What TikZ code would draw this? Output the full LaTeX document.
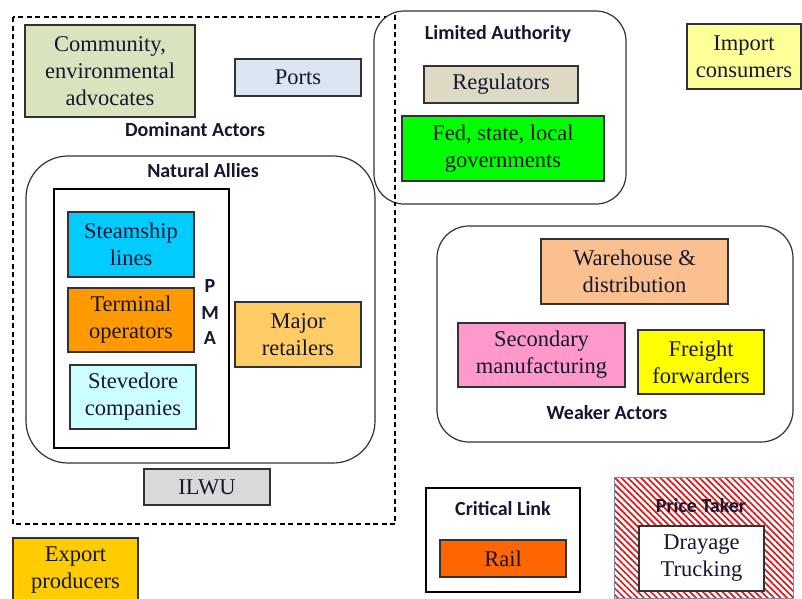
\documentclass[tikz,border=0pt]{standalone}
\usepackage{fontspec}
\setmainfont{Liberation Serif}
\newfontfamily\lblfont{Carlito}
\usetikzlibrary{patterns.meta}
\definecolor{txt}{RGB}{22,22,48}
\definecolor{edge}{RGB}{50,50,50}
\definecolor{cComm}{HTML}{D7E4BD}
\definecolor{cPorts}{HTML}{DCE6F2}
\definecolor{cReg}{HTML}{DDD9C3}
\definecolor{cFed}{HTML}{00FF00}
\definecolor{cImp}{HTML}{FFFF99}
\definecolor{cSteam}{HTML}{00CCFF}
\definecolor{cTerm}{HTML}{FF9900}
\definecolor{cSteve}{HTML}{CCFFFF}
\definecolor{cMajor}{HTML}{FFCC66}
\definecolor{cIlwu}{HTML}{D9D9D9}
\definecolor{cWare}{HTML}{FAC090}
\definecolor{cSec}{HTML}{FF99CC}
\definecolor{cFreight}{HTML}{FFFF00}
\definecolor{cRail}{HTML}{FF6600}
\definecolor{cExp}{HTML}{FFCC00}
\definecolor{cPTedge}{RGB}{120,140,180}
\definecolor{hatch}{RGB}{215,30,30}
\tikzset{
  actor/.style={draw=edge, line width=1.4pt, inner sep=0pt, align=center, text=txt,
    font=\fontsize{22.5}{27}\selectfont},
  group/.style={draw=edge, line width=1.2pt, inner sep=0pt, fill=none},
  roundgroup/.style={group, rounded corners=#1},
  lbl/.style={inner sep=0pt, text=txt, font=\lblfont\bfseries\fontsize{20}{24}\selectfont},
}
\begin{document}
\begin{tikzpicture}[x=1pt,y=-1pt]
\useasboundingbox (0,0) rectangle (802,598);
\clip (0,0) rectangle (802,598);
\fill[white] (0,0) rectangle (802,598);

% dominant actors dashed region
\draw[dashed, line width=1.1pt, dash pattern=on 5pt off 3.5pt, black] (13,17) rectangle (395,524);
\coordinate (dashtop) at (395,15);
\coordinate (dashbot) at (395,204);

% limited authority
\node[roundgroup=30pt, fill=white, minimum width=252pt, minimum height=193pt] (LA) at (500,107.5) {};
\draw[dashed, line width=1.1pt, dash pattern=on 5pt off 3.5pt, black] (dashtop) -- (dashbot);
\node[lbl] (LAlbl) at (498,34) {Limited Authority};
\node[actor, fill=cReg, minimum width=154pt, minimum height=37pt] (reg) at (501,84.5) {Regulators};
\node[actor, fill=cFed, minimum width=202pt, minimum height=65pt] (fed) at (503,148.5) {Fed, state, local\\governments};

% dominant actors content
\node[actor, fill=cComm, minimum width=170pt, minimum height=92pt] (comm) at (110,71) {Community,\\environmental\\advocates};
\node[actor, fill=cPorts, minimum width=126pt, minimum height=37pt] (ports) at (298,77.5) {Ports};
\node[lbl] (DAlbl) at (195,130) {Dominant Actors};

% natural allies
\node[roundgroup=42pt, minimum width=349pt, minimum height=307pt] (NA) at (200.5,309.5) {};
\node[lbl] (NAlbl) at (203,171) {Natural Allies};
\node[group, draw=black, minimum width=175pt, minimum height=259pt] (PMA) at (141.5,318.5) {};
\node[actor, fill=cSteam, minimum width=126pt, minimum height=65pt] (steam) at (131,244.5) {Steamship\\lines};
\node[actor, fill=cTerm, minimum width=126pt, minimum height=64pt] (term) at (131,320) {Terminal\\operators};
\node[actor, fill=cSteve, minimum width=126pt, minimum height=64pt] (steve) at (133,397) {Stevedore\\companies};
\node[lbl] (P) at (210,286) {P};
\node[lbl] (M) at (210,313) {M};
\node[lbl] (A) at (210,338) {A};
\node[actor, fill=cMajor, minimum width=126pt, minimum height=65pt] (major) at (298,334.5) {Major\\retailers};
\node[actor, fill=cIlwu, minimum width=126pt, minimum height=36pt] (ilwu) at (207,487) {ILWU};

% import consumers
\node[actor, fill=cImp, minimum width=114pt, minimum height=65pt] (imp) at (744,56.5) {Import\\consumers};

% weaker actors
\node[roundgroup=32pt, minimum width=356pt, minimum height=216pt] (WA) at (615,334) {};
\node[actor, fill=cWare, minimum width=187pt, minimum height=65pt] (ware) at (634.5,271.5) {Warehouse \&\\distribution};
\node[actor, fill=cSec, minimum width=167pt, minimum height=64pt] (sec) at (541.5,355) {Secondary\\manufacturing};
\node[actor, fill=cFreight, minimum width=126pt, minimum height=64pt] (freight) at (701,362) {Freight\\forwarders};
\node[lbl] (WAlbl) at (607,413) {Weaker Actors};

% critical link
\node[group, draw=black, minimum width=154pt, minimum height=104pt] (CL) at (503,540) {};
\node[lbl] (CLlbl) at (503,509) {Critical Link};
\node[actor, fill=cRail, minimum width=126pt, minimum height=37pt] (rail) at (503,558.5) {Rail};

% price taker
\node[draw=cPTedge, line width=0.8pt, inner sep=0pt, fill=white,
  pattern={Lines[angle=-45,distance=4.6pt,line width=1.7pt]}, pattern color=hatch,
  minimum width=179pt, minimum height=121pt] (PT) at (703.5,537.5) {};
\node[lbl] (PTlbl) at (701,506) {Price Taker};
\node[actor, fill=white, minimum width=125pt, minimum height=65pt] (dray) at (701.5,558.5) {Drayage\\Trucking};

% export producers
\node[actor, fill=cExp, minimum width=125pt, minimum height=64pt] (exp) at (75.5,570) {Export\\producers};
\end{tikzpicture}
\end{document}
